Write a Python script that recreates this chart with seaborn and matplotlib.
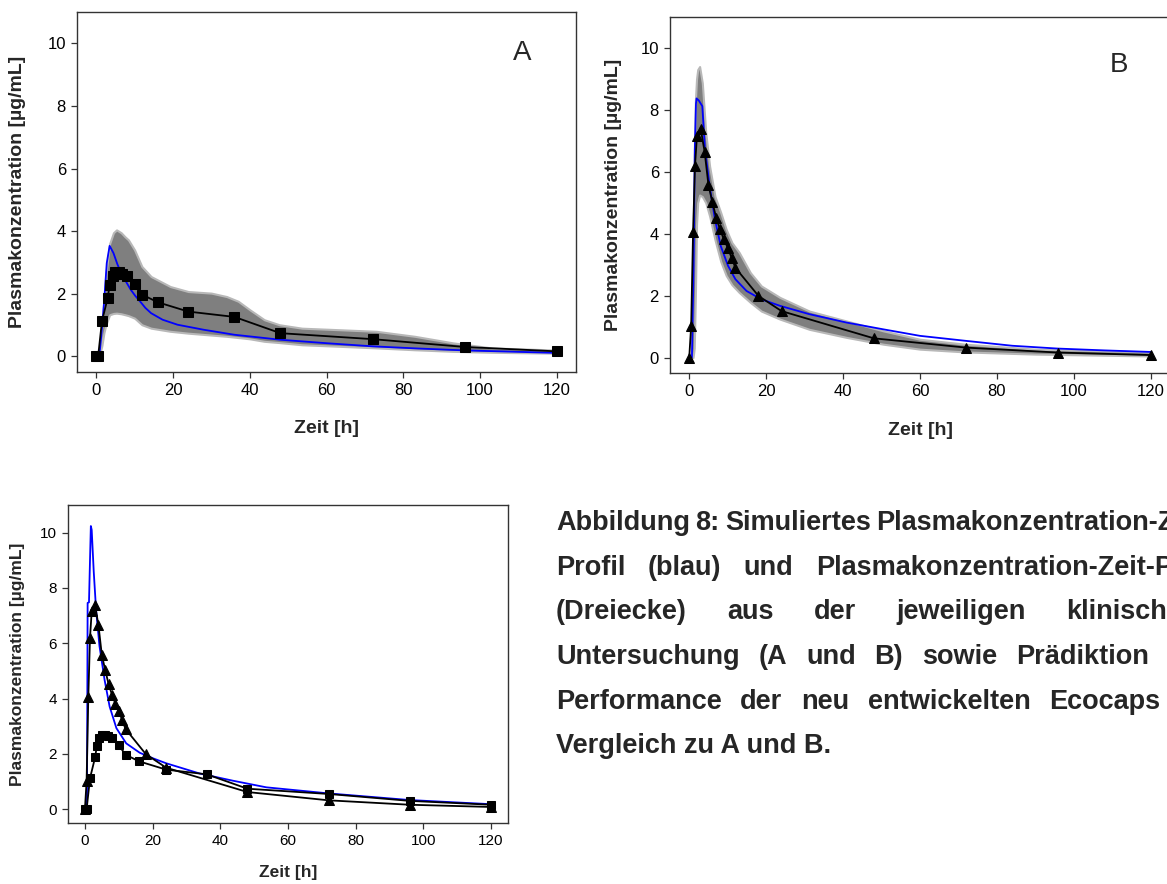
import numpy as np
import pandas as pd
import matplotlib
matplotlib.use("Agg")
import matplotlib.pyplot as plt
import seaborn as sns

# ---------------- data ----------------
# Panel A: observed (squares)
a_time = [0, 0.5, 1.5, 3, 3.5, 4.25, 5, 6, 6.75, 8, 10, 12, 16, 24, 36, 48, 72, 96, 120]
a_conc = [0, 0, 1.12, 1.87, 2.27, 2.56, 2.68, 2.69, 2.63, 2.56, 2.31, 1.97, 1.73, 1.43, 1.26, 0.74, 0.55, 0.30, 0.16]
# Panel A: simulated profile (blue)
a_sim_time = [0.8, 1.4, 2.1, 2.75, 3.5, 4.5, 5.5, 6.5, 7.7, 9, 10.2, 11.4, 12.8, 14.3, 17.3, 21.2, 28, 36, 48, 60, 72, 84, 96, 108, 120]
a_sim_conc = [0, 0.74, 1.8, 2.98, 3.53, 3.3, 2.95, 2.66, 2.4, 2.13, 1.93, 1.76, 1.55, 1.38, 1.17, 1.01, 0.85, 0.69, 0.53, 0.42, 0.32, 0.25, 0.19, 0.15, 0.11]
# Panel A: prediction band (grey)
a_band_time = [0.8, 1.5, 2.0, 2.5, 3.5, 4.5, 5.3, 6.5, 7.5, 8.4, 10, 11.9, 14.3, 19.3, 24, 30, 34, 37, 40, 43.8, 47.7, 53.6, 63.5, 73, 83, 93, 103, 120]
a_band_hi = [0, 1.0, 1.8, 2.6, 3.6, 3.95, 4.04, 3.95, 3.82, 3.72, 3.4, 2.87, 2.55, 2.23, 2.07, 2.02, 1.91, 1.76, 1.49, 1.17, 1.01, 0.9, 0.85, 0.8, 0.64, 0.43, 0.27, 0.2]
a_band_lo = [0, 0.35, 0.74, 1.0, 1.33, 1.37, 1.38, 1.36, 1.33, 1.3, 1.22, 1.01, 0.9, 0.8, 0.74, 0.68, 0.64, 0.6, 0.56, 0.48, 0.44, 0.37, 0.32, 0.27, 0.21, 0.16, 0.13, 0.1]

# Panel B: observed (triangles)
b_time = [0, 0.5, 1, 1.5, 2, 3, 4, 5, 6, 7, 8, 9, 10, 11, 12, 18, 24, 48, 72, 96, 120]
b_conc = [0, 1.02, 4.06, 6.2, 7.15, 7.37, 6.65, 5.57, 5.03, 4.52, 4.14, 3.82, 3.55, 3.23, 2.9, 1.99, 1.5, 0.62, 0.32, 0.16, 0.08]
# Panel B: simulated profile (blue)
b_sim_time = [0.7, 1.15, 1.45, 1.75, 1.9, 2.5, 3.4, 4.1, 5.3, 6.7, 8.2, 10.1, 12, 14.9, 18.75, 23.6, 31.25, 40.9, 50.5, 60, 71.8, 84, 95.7, 108, 120]
b_sim_conc = [0, 2.96, 6.7, 8.2, 8.37, 8.3, 8.12, 6.72, 5.54, 4.46, 3.6, 2.96, 2.53, 2.15, 1.88, 1.67, 1.4, 1.13, 0.91, 0.70, 0.54, 0.38, 0.29, 0.23, 0.18]
# Panel B: prediction band (grey)
b_band_time = [0.5, 1.0, 1.3, 1.6, 1.9, 2.2, 2.7, 3.4, 4.3, 5.3, 6.7, 8.2, 9.6, 11.1, 13, 15.9, 18.75, 23.6, 31.25, 40.9, 50.5, 60, 71.8, 90, 120]
b_band_hi = [0, 3.5, 6.5, 8.3, 9.0, 9.3, 9.4, 8.87, 7.26, 6.18, 5.2, 4.68, 4.14, 3.71, 3.39, 2.74, 2.31, 1.94, 1.5, 1.18, 0.86, 0.59, 0.43, 0.27, 0.18]
b_band_lo = [0, 0, 0.3, 2.0, 4.3, 5.0, 5.25, 5.2, 5.0, 4.57, 3.8, 3.1, 2.65, 2.35, 2.1, 1.78, 1.5, 1.24, 0.91, 0.65, 0.43, 0.27, 0.18, 0.11, 0.05]

# Panel C: simulated profile of the new formulation (blue)
c_sim_time = [0.6, 0.8, 1.2, 1.5, 1.75, 2.0, 2.6, 3.3, 4.3, 5.8, 7.3, 9.3, 12.2, 16.2, 20.1, 24, 33.9, 43.7, 53.6, 72, 96, 120]
c_sim_conc = [0, 7.46, 7.48, 9.0, 10.24, 10.1, 8.6, 7.2, 5.9, 4.68, 3.71, 2.93, 2.38, 2.04, 1.84, 1.66, 1.29, 1.03, 0.79, 0.57, 0.33, 0.18]

x_ticks = [0, 20, 40, 60, 80, 100, 120]
y_ticks = [0, 2, 4, 6, 8, 10]
x_label = "Zeit [h]"
y_label = "Plasmakonzentration [µg/mL]"
panel_letters = ["A", "B"]

caption_lines = [
    ["Abbildung", "8:", "Simuliertes", "Plasmakonzentration-Zeit-"],
    ["Profil", "(blau)", "und", "Plasmakonzentration-Zeit-Profile"],
    ["(Dreiecke)", "aus", "der", "jeweiligen", "klinischen"],
    ["Untersuchung", "(A", "und", "B)", "sowie", "Prädiktion"],
    ["Performance", "der", "neu", "entwickelten", "Ecocaps"],
    ["Vergleich zu A und B."],
]

# ---------------- style ----------------
sns.set_theme(style="ticks")
plt.rcParams["font.family"] = ["Liberation Sans", "DejaVu Sans"]
plt.rcParams["axes.edgecolor"] = "#333333"
plt.rcParams["axes.linewidth"] = 1.0
plt.rcParams["xtick.color"] = "#333333"
plt.rcParams["ytick.color"] = "#333333"
plt.rcParams["xtick.labelcolor"] = "black"
plt.rcParams["ytick.labelcolor"] = "black"

W, H = 1167, 884
fig = plt.figure(figsize=(W / 100, H / 100), dpi=100)
fig.patch.set_facecolor("white")


def ax_at(l, t, r, b):
    return fig.add_axes([l / W, 1 - b / H, (r - l) / W, (b - t) / H])


def style_axis(ax, l, t, r, b, tick_fs, label_fs, ylab_x, xlab_y):
    ax.set_xlim(-5, 125)
    ax.set_ylim(-0.5, 11)
    ax.set_xticks(x_ticks)
    ax.set_yticks(y_ticks)
    ax.tick_params(axis="both", direction="out", length=4, width=0.9, labelsize=tick_fs, pad=4)
    ax.set_xlabel(x_label, fontsize=label_fs, fontweight="bold")
    ax.set_ylabel(y_label, fontsize=label_fs, fontweight="bold")
    ax.yaxis.set_label_coords((ylab_x - l) / (r - l), 0.5)
    ax.xaxis.set_label_coords(0.5, (b - xlab_y) / (b - t))
    ax.xaxis.label.set_va("center")
    ax.yaxis.label.set_va("center")
    for s in ax.spines.values():
        s.set_visible(True)
        s.set_color("#333333")


def band(ax, t, lo, hi):
    ax.fill_between(t, lo, hi, facecolor="#7f7f7f", edgecolor="#b8b8b8", linewidth=1.5, zorder=1)


def sim(ax, t, c):
    sns.lineplot(x=t, y=c, ax=ax, color="#0000ff", lw=1.3, estimator=None, sort=False, zorder=3)


def obs(ax, t, c, marker, ms):
    sns.lineplot(x=t, y=c, ax=ax, color="black", lw=1.3, marker=marker, markersize=ms,
                 markeredgecolor="black", markerfacecolor="black", estimator=None, sort=False, zorder=4)


# Panel A
A_box = (77, 12, 576, 372)
axA = ax_at(*A_box)
band(axA, a_band_time, a_band_lo, a_band_hi)
sim(axA, a_sim_time, a_sim_conc)
obs(axA, a_time, a_conc, "s", 6.5)
style_axis(axA, *A_box, tick_fs=12, label_fs=14, ylab_x=18, xlab_y=428)
axA.text(111, 9.7, panel_letters[0], fontsize=20, ha="center", va="center")

# Panel B
B_box = (670, 17, 1170, 373)
axB = ax_at(*B_box)
band(axB, b_band_time, b_band_lo, b_band_hi)
sim(axB, b_sim_time, b_sim_conc)
obs(axB, b_time, b_conc, "^", 7)
style_axis(axB, *B_box, tick_fs=12, label_fs=14, ylab_x=614, xlab_y=430)
axB.text(111.7, 9.46, panel_letters[1], fontsize=20, ha="center", va="center")

# Panel C
C_box = (68, 505, 508, 823)
axC = ax_at(*C_box)
sim(axC, c_sim_time, c_sim_conc)
obs(axC, a_time, a_conc, "s", 6)
obs(axC, b_time, b_conc, "^", 6.5)
style_axis(axC, *C_box, tick_fs=11, label_fs=12.5, ylab_x=18, xlab_y=873)

# Caption: justified block that runs past the right edge, as in the original
line_y = [523, 568, 612, 657, 702, 746]
last_word_x = [876, 816, 1066, 1016, 1049]
x0 = 556
cap_fs = 19.5
renderer = fig.canvas.get_renderer()
for i, (words, yy) in enumerate(zip(caption_lines, line_y)):
    if i == len(caption_lines) - 1:
        fig.text(x0 / W, 1 - yy / H, words[0], fontsize=cap_fs, fontweight="bold", va="center", ha="left")
        continue
    widths = []
    for w in words:
        t = fig.text(0, 0, w, fontsize=cap_fs, fontweight="bold")
        widths.append(t.get_window_extent(renderer).width)
        t.remove()
    gap = (last_word_x[i] - x0 - sum(widths[:-1])) / (len(words) - 1)
    x = x0
    for w, wd in zip(words, widths):
        fig.text(x / W, 1 - yy / H, w, fontsize=cap_fs, fontweight="bold", va="center", ha="left")
        x += wd + gap

fig.savefig("out.png", dpi=100, facecolor="white")
